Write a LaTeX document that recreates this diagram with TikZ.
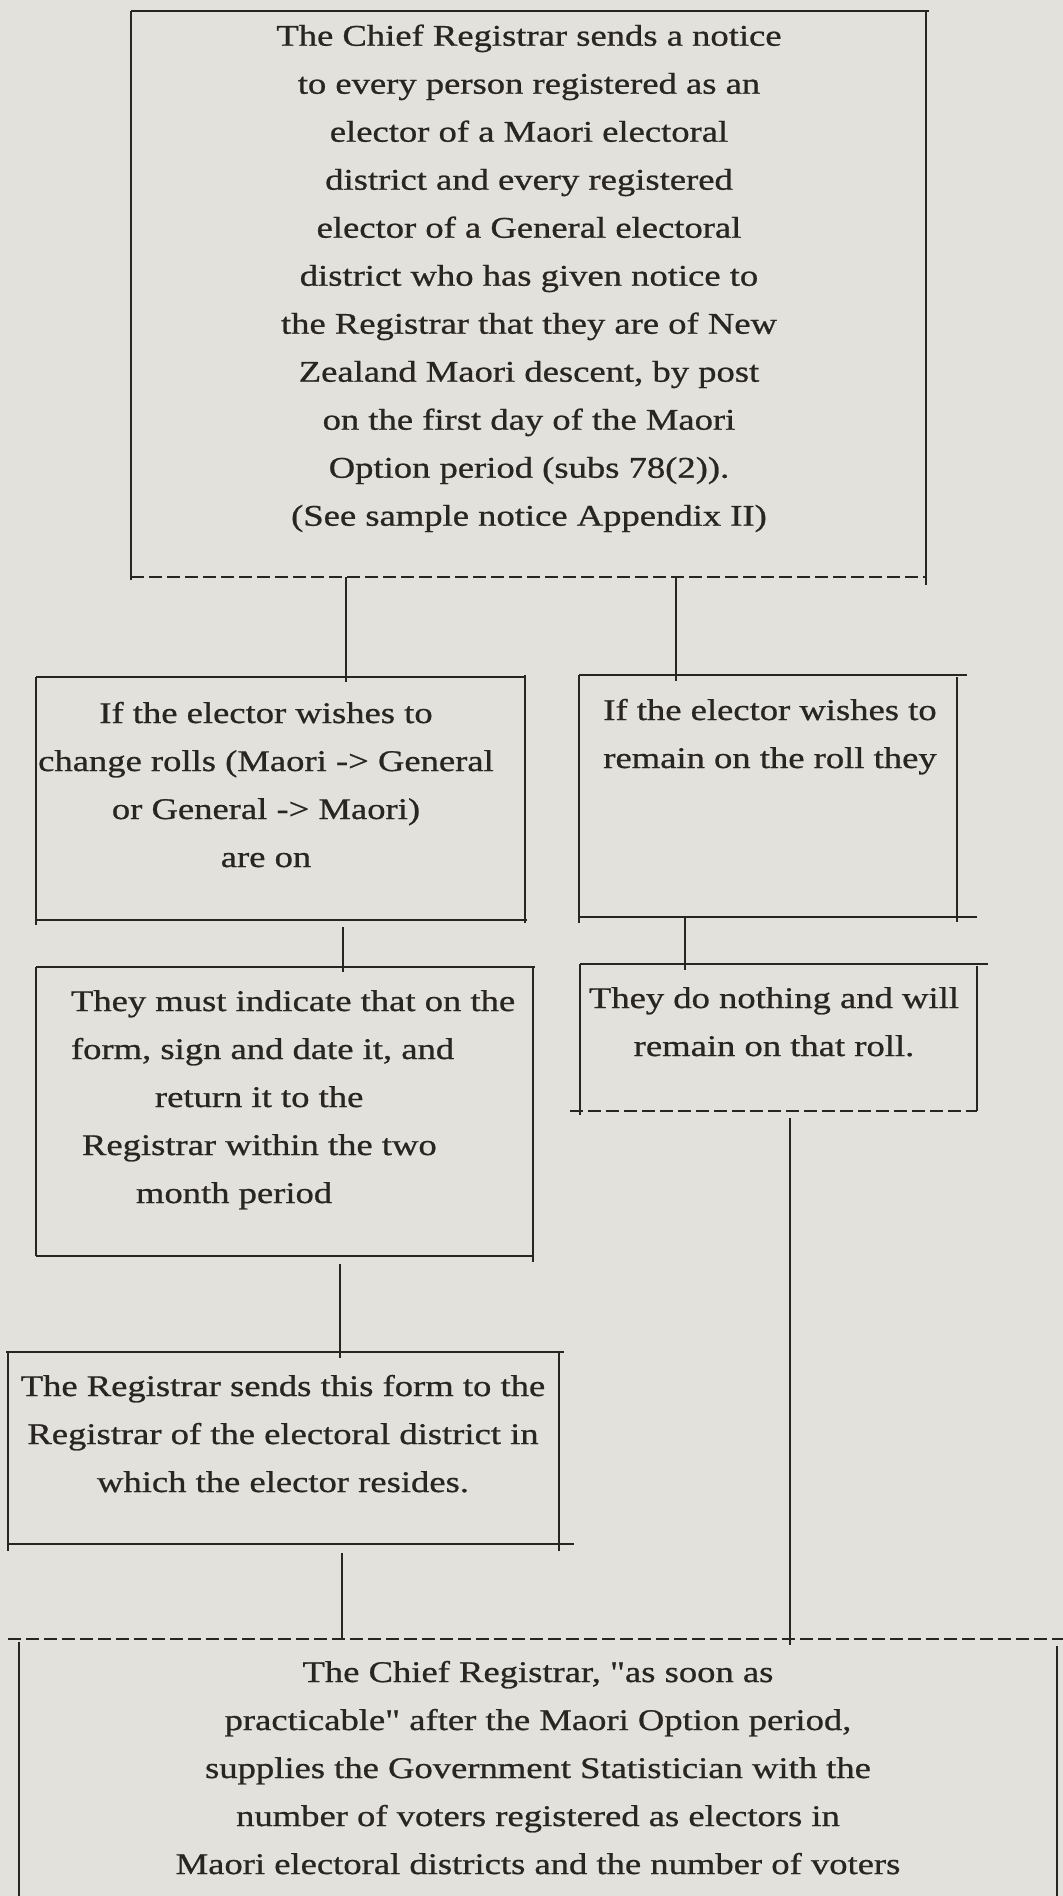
\documentclass[tikz,border=0pt]{standalone}
\usepackage{fontspec}
\setmainfont{Liberation Serif}[FakeStretch=1.22,FakeBold=0.8,Ligatures=TeXOff]
\definecolor{paper}{HTML}{E3E1DC}
\definecolor{ink}{HTML}{292522}
\begin{document}
\begin{tikzpicture}[x=1pt,y=-1pt,
  frame/.style={draw=none,inner sep=0pt,outer sep=0pt,rectangle},
  edge/.style={draw=ink,line width=2.2pt},
  dashedge/.style={edge,dash pattern=on 13pt off 5pt},
  link/.style={draw=ink,line width=2.2pt},
  txt/.style={inner sep=0pt,outer sep=0pt,text=ink,font=\fontsize{30}{48}\selectfont,align=center,anchor=north}]
\clip (0,0) rectangle (1063,1896);
\useasboundingbox (0,0) rectangle (1063,1896);
\fill[paper] (0,0) rectangle (1063,1896);

% frames
\node[frame,minimum width=795pt,minimum height=566.3pt] (f1) at (528.5,293.85) {};
\node[frame,minimum width=489pt,minimum height=243pt] (f2) at (280.5,798.5) {};
\node[frame,minimum width=378pt,minimum height=242pt] (f3) at (768,796) {};
\node[frame,minimum width=497pt,minimum height=289pt] (f4) at (284.5,1111.5) {};
\node[frame,minimum width=397pt,minimum height=147pt] (f5) at (778.5,1037.5) {};
\node[frame,minimum width=551pt,minimum height=192pt] (f6) at (283.5,1448) {};
\node[frame,minimum width=1038pt,minimum height=291pt] (f7) at (538,1784.5) {};

% texts
\node[txt] (t1) at (529,12.1) {\strut The Chief Registrar sends a notice\\
to every person registered as an\\
elector of a Maori electoral\\
district and every registered\\
elector of a General electoral\\
district who has given notice to\\
the Registrar that they are of New\\
Zealand Maori descent, by post\\
on the first day of the Maori\\
Option period (subs 78(2)).\\
(See sample notice Appendix II)};
\node[txt] (t2) at (266,689.4) {\strut If the elector wishes to\\
change rolls (Maori -> General\\
or General -> Maori)\\
are on};
\node[txt] (t3) at (770,686.4) {\strut If the elector wishes to\\
remain on the roll they};
\node[txt,align=left,anchor=north west] (t4) at (71,977.4) {\strut They must indicate that on the\\
form, sign and date it, and\\
\hspace*{84pt}return it to the\\
\hspace*{11pt}Registrar within the two\\
\hspace*{65pt}month period};
\node[txt] (t5) at (774,974.4) {\strut They do nothing and will\\
remain on that roll.};
\node[txt] (t6) at (283,1362.4) {\strut The Registrar sends this form to the\\
Registrar of the electoral district in\\
which the elector resides.};
\node[txt] (t7) at (538,1648.4) {\strut The Chief Registrar, "as soon as\\
practicable" after the Maori Option period,\\
supplies the Government Statistician with the\\
number of voters registered as electors in\\
Maori electoral districts and the number of voters};

% box edges
\draw[edge] (f1.north west) -- ([shift={(3,0)}]f1.north east);
\draw[edge] (f1.north west) -- ([shift={(0,3)}]f1.south west);
\draw[edge] (f1.north east) -- ([shift={(0,8)}]f1.south east);
\draw[dashedge] (f1.south west) -- (f1.south east);

\draw[edge] (f2.north west) -- ([shift={(1,0)}]f2.north east);
\draw[edge] (f2.north west) -- ([shift={(0,5)}]f2.south west);
\draw[edge] ([shift={(0,-2)}]f2.north east) -- ([shift={(0,3)}]f2.south east);
\draw[edge] (f2.south west) -- ([shift={(2,0)}]f2.south east);

\draw[edge] (f3.north west) -- ([shift={(10,0)}]f3.north east);
\draw[edge] (f3.north west) -- ([shift={(0,6)}]f3.south west);
\draw[edge] ([shift={(0,2)}]f3.north east) -- ([shift={(0,5)}]f3.south east);
\draw[edge] (f3.south west) -- ([shift={(20,0)}]f3.south east);

\draw[edge] (f4.north west) -- ([shift={(2,0)}]f4.north east);
\draw[edge] (f4.north west) -- (f4.south west);
\draw[edge] (f4.north east) -- ([shift={(0,6)}]f4.south east);
\draw[edge] (f4.south west) -- (f4.south east);

\draw[edge] (f5.north west) -- ([shift={(11,0)}]f5.north east);
\draw[edge] (f5.north west) -- ([shift={(0,4)}]f5.south west);
\draw[edge] ([shift={(0,2)}]f5.north east) -- (f5.south east);
\draw[dashedge] ([shift={(-10,0)}]f5.south west) -- (f5.south east);

\draw[edge] ([shift={(-2,0)}]f6.north west) -- ([shift={(5,0)}]f6.north east);
\draw[edge] (f6.north west) -- ([shift={(0,7)}]f6.south west);
\draw[edge] (f6.north east) -- ([shift={(0,7)}]f6.south east);
\draw[edge] (f6.south west) -- ([shift={(15,0)}]f6.south east);

\draw[dashedge] ([shift={(-11,0)}]f7.north west) -- ([shift={(6,0)}]f7.north east);
\draw[edge] ([shift={(0,3)}]f7.north west) -- (f7.south west);
\draw[edge] ([shift={(0,7)}]f7.north east) -- (f7.south east);

% connector columns
\coordinate (k1) at (346,0);
\coordinate (k2) at (676,0);
\coordinate (k3) at (343,0);
\coordinate (k4) at (685,0);
\coordinate (k5) at (340,0);
\coordinate (k6) at (790,0);
\coordinate (k7) at (342,0);

% connectors
\draw[link] (f1.south -| k1) -- (f2.north -| k1) -- ++(0,5);
\draw[link] (f1.south -| k2) -- (f3.north -| k2) -- ++(0,6);
\draw[link,shorten <=7pt] (f2.south -| k3) -- (f4.north -| k3) -- ++(0,5);
\draw[link] (f3.south -| k4) -- (f5.north -| k4) -- ++(0,6);
\draw[link,shorten <=8pt] (f4.south -| k5) -- (f6.north -| k5) -- ++(0,6);
\draw[link,shorten <=7pt] (f5.south -| k6) -- (f7.north -| k6) -- ++(0,6);
\draw[link,shorten <=9pt] (f6.south -| k7) -- (f7.north -| k7);
\end{tikzpicture}
\end{document}
